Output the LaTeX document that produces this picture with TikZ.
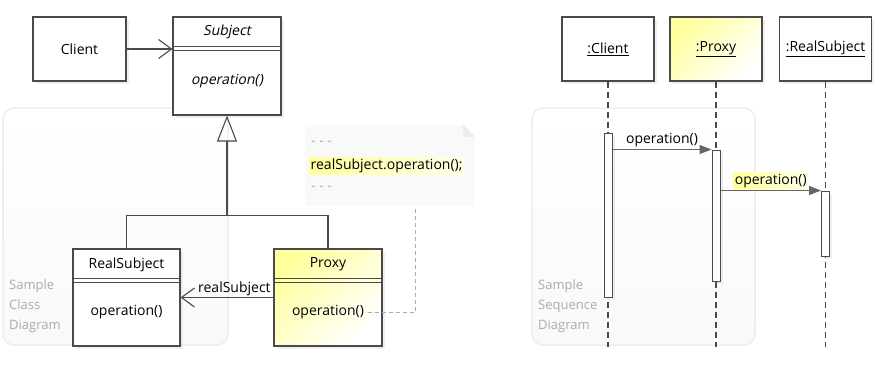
\documentclass[tikz,border=0pt]{standalone}
\usepackage{fontspec}
\setmainfont{Open Sans}[AutoFakeSlant=0.2]
\usetikzlibrary{positioning,arrows.meta,shadows,calc}
\definecolor{Ink}{HTML}{4A4A4A}
\definecolor{Lemon}{HTML}{FFFF9E}
\definecolor{Paper}{HTML}{F9F9F9}
\definecolor{Faint}{HTML}{ABABAB}
\definecolor{Rim}{HTML}{EDEDED}

% double line under a class name
\newcommand{\splitbar}[2]{%
  \draw[Ink, line width=0.8pt] ($(#1.north west)+(0,#2)$) -- ($(#1.north east)+(0,#2)$);
  \draw[Ink, line width=0.8pt] ($(#1.north west)+(0,#2+4)$) -- ($(#1.north east)+(0,#2+4)$);}

\begin{document}
\begin{tikzpicture}[x=1pt, y=-1pt, font=\fontsize{14}{16}\selectfont,
  classbox/.style={draw=Ink, line width=1.1pt, fill=white, inner sep=0pt,
    drop shadow={opacity=0.12, shadow xshift=2.5pt, shadow yshift=-2.5pt}},
  lemonbox/.style={classbox, top color=Lemon, bottom color=white, shading angle=45},
  oblique/.style={font=\fontsize{14}{16}\selectfont\itshape},
  frame/.style={draw=Rim, line width=1.5pt, rounded corners=11pt, top color=white, bottom color=Paper},
  caption/.style={text=Faint, align=left, anchor=north west, inner sep=0pt, font=\fontsize{13}{20}\selectfont},
  notebox/.style={fill=Paper, inner sep=0pt},
  lifeline/.style={draw=Ink, line width=1.1pt, dash pattern=on 6pt off 4pt},
  bar/.style={classbox, minimum width=8, line width=1pt},
  call/.style={draw=Ink!85, line width=1pt, -{Triangle[length=12pt,width=9pt]}},
  assoc/.style={draw=Ink, line width=1.1pt, -{Straight Barb[length=13pt,width=19pt]}},
  marker/.style={left color=Lemon, right color=Lemon!25, inner sep=1.5pt}]
\useasboundingbox (0,0) rectangle (882,367);

% background frames
\draw[frame] (3,108) rectangle (228,345);
\draw[frame] (532,108) rectangle (755,345);
\node[caption] (classcap) at (9,279) {Sample\\Class\\Diagram};
\node[caption] (seqcap) at (538,279) {Sample\\Sequence\\Diagram};

% class diagram
\node[classbox, minimum width=93, minimum height=64] (client) at (79.5,49) {Client};
\node[classbox, minimum width=108, minimum height=98] (subject) at (227,66) {};
\node[oblique] (subjectname) at ($(subject.north)+(0,15)$) {Subject};
\node[oblique] (subjectop) at ($(subject.north)+(0,65)$) {operation()};
\splitbar{subject}{30}

\node[classbox, minimum width=107, minimum height=97] (realsubject) at (126.5,297.5) {};
\node (realname) at ($(realsubject.north)+(0,16)$) {RealSubject};
\node (realop) at ($(realsubject.north)+(0,64)$) {operation()};
\splitbar{realsubject}{30}

\node[lemonbox, minimum width=108, minimum height=97] (proxy) at (328,297.5) {};
\node (proxyname) at ($(proxy.north)+(0,16)$) {Proxy};
\node (proxyop) at ($(proxy.north)+(0,64)$) {operation()};
\splitbar{proxy}{30}

\draw[assoc] (client.east) -- (client.east -| subject.west);
\coordinate (fork) at ($(subject.south)+(0,100)$);
\draw[Ink, line width=1.1pt] (realsubject.north) |- (fork) -| (proxy.north);
\draw[Ink, line width=1.1pt, -{Triangle[open, length=26pt, width=20pt]}] (fork) -- (subject.south);
\draw[assoc] (proxy.west) -- node[above, pos=0.42, inner sep=1pt] (rolelabel) {realSubject} (realsubject.east);

% note
\node[notebox, minimum width=170, minimum height=81] (note) at (390,165.5) {};
\fill[white] ($(note.north east)+(-12,0)$) -- (note.north east) -- ($(note.north east)+(0,12)$) -- cycle;
\fill[Rim] ($(note.north east)+(-12,0)$) -- ($(note.north east)+(-12,12)$) -- ($(note.north east)+(0,12)$) -- cycle;
\node[anchor=west, inner sep=0pt, text=Faint] (dotsa) at (311,143) {- - -};
\node[marker, anchor=west] (codeline) at (309,166) {realSubject.operation();};
\node[anchor=west, inner sep=0pt, text=Faint] (dotsb) at (311,188) {- - -};
\coordinate (notefoot) at ($(note.south)+(25,0)$);
\draw[Faint, line width=1pt, dash pattern=on 4pt off 3pt] (proxyop.east) -| (notefoot);

% sequence diagram
\node[classbox, minimum width=92, minimum height=64] (clienthead) at (608,49) {\underline{:Client}};
\node[lemonbox, minimum width=92, minimum height=64] (proxyhead) at (716,49) {\underline{:Proxy}};
\node[classbox, minimum width=92, minimum height=64] (realhead) at (825.5,49) {\underline{:RealSubject}};
\draw[lifeline] (clienthead.south) -- (clienthead.south |- 0,347);
\draw[lifeline] (proxyhead.south) -- (proxyhead.south |- 0,347);
\draw[lifeline] (realhead.south) -- (realhead.south |- 0,347);
\node[bar, minimum height=164] (clientbar) at (clienthead |- 0,215) {};
\node[bar, minimum height=131] (proxybar) at (proxyhead |- 0,215.5) {};
\node[bar, minimum height=65] (realbar) at (realhead |- 0,223.5) {};
\draw[call] (clientbar.east |- proxybar.north) -- node[above, inner sep=2pt] (msga) {operation()} (proxybar.north west);
\draw[call] (proxybar.east |- realbar.north) -- node[marker, above=1pt] (msgb) {operation()} (realbar.north west);
\end{tikzpicture}
\end{document}
